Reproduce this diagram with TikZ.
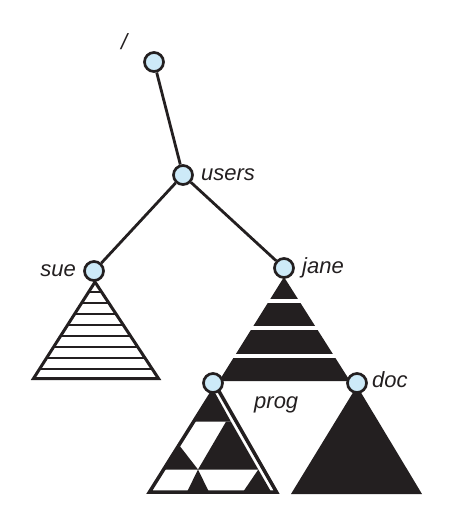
\documentclass[tikz,border=0pt]{standalone}
\usepackage{fontspec}
\setmainfont{Liberation Sans}
\usepackage{tikz}

\definecolor{ink}{HTML}{231F20}
\definecolor{folder}{HTML}{CDEAF8}

\begin{document}
\begin{tikzpicture}[x=1pt, y=-1pt,
	dirnode/.style={circle, draw=ink, fill=folder, line width=2.7pt, minimum size=19pt, inner sep=0pt},
	dirlabel/.style={inner sep=0pt, text=ink, font=\fontsize{22}{26}\selectfont\itshape},
	branch/.style={draw=ink, line width=2.8pt}]
	\useasboundingbox (0,0) rectangle (450,531);

	% sue: open triangle with rungs
	\draw [ink, line width=3pt] (95,282) -- (33.5,378.5) -- (158.5,378.5) -- cycle;
	\draw [ink, line width=2.6pt] (88,292) -- (102,292);
	\draw [ink, line width=2.6pt] (81,303) -- (109,303);
	\draw [ink, line width=2.6pt] (74,314) -- (116,314);
	\draw [ink, line width=2.6pt] (67,325) -- (123,325);
	\draw [ink, line width=2.6pt] (60,336) -- (130,336);
	\draw [ink, line width=2.6pt] (53,347) -- (137,347);
	\draw [ink, line width=2.6pt] (46,358) -- (144,358);
	\draw [ink, line width=2.6pt] (39,369) -- (151,369);

	% jane: solid with white bands
	\fill [ink] (284,277) -- (219,381) -- (350,381) -- cycle;
	\draw [white, line width=3.5pt] (266,301) -- (302,301);
	\draw [white, line width=3.5pt] (249,328) -- (319,328);
	\draw [white, line width=3.5pt] (231,356) -- (337,356);

	% prog: outlined, checkered inside
	\draw [ink, fill=white, line width=3.5pt] (216,386) -- (149.5,492) -- (276.5,492) -- cycle;
	\fill [ink] (213.5,390) -- (193.6,421.7) -- (231,421.7) -- cycle;
	\fill [ink] (179,445) -- (198,469.5) -- (163.6,469.5) -- cycle;
	\fill [ink] (226,421.7) -- (231,421.7) -- (258.3,469.5) -- (198,469.5) -- cycle;
	\fill [ink] (198,469.5) -- (187,492) -- (209,492) -- cycle;
	\fill [ink] (258.3,469.5) -- (243,492) -- (271.2,492) -- cycle;

	% doc: solid
	\fill [ink] (357,386) -- (291,494) -- (422,494) -- cycle;

	\node [dirnode] (root)  at (154,62)  {};
	\node [dirnode] (users) at (183,175) {};
	\node [dirnode] (sue)   at (94,271)  {};
	\node [dirnode] (jane)  at (284,268) {};
	\node [dirnode] (prog)  at (213,383) {};
	\node [dirnode] (doc)   at (357,383) {};

	\draw [branch] (root) -- (users);
	\draw [branch] (users) -- (sue);
	\draw [branch] (users) -- (jane);

	\node [dirlabel, anchor=base west] (lroot)  at (121,49)  {/};
	\node [dirlabel, anchor=base west] (lusers) at (201,180) {users};
	\node [dirlabel, anchor=base east] (lsue)   at (76,276)  {sue};
	\node [dirlabel, anchor=base west] (ljane)  at (302,273) {jane};
	\node [dirlabel, anchor=base west] (lprog)  at (254,408) {prog};
	\node [dirlabel, anchor=base west] (ldoc)   at (372,387) {doc};
\end{tikzpicture}
\end{document}
